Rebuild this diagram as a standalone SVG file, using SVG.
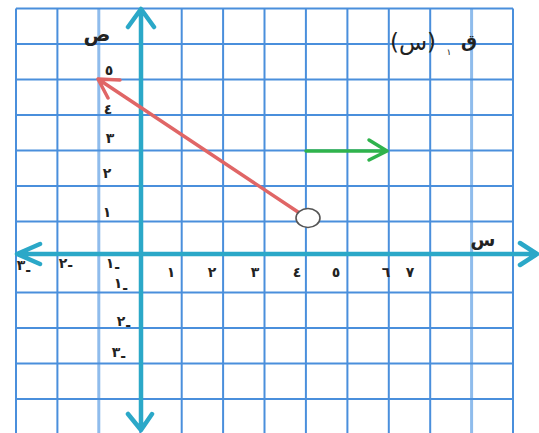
<svg xmlns="http://www.w3.org/2000/svg" width="539" height="433" viewBox="0 0 539 433">
<style>
.g{stroke:#4a8fdc;stroke-width:2;fill:none}
.gl{stroke:#8fbcec;stroke-width:3;fill:none}
.ax{stroke:#2ba8c8;stroke-width:4.5;fill:none;stroke-linecap:round;stroke-linejoin:round}
.t{font-family:"DejaVu Sans",sans-serif;font-size:14px;font-weight:bold;fill:#222;text-anchor:middle}
.red{stroke:#e06666;stroke-width:3.5;fill:none;stroke-linecap:round;stroke-linejoin:round}
.grn{stroke:#2fb34c;stroke-width:3.5;fill:none;stroke-linecap:round;stroke-linejoin:round}
</style>
<rect width="539" height="433" fill="#fff"/>
<g id="grid">
<path class="g" d="M16 8.5V433M57.4 8.5V433M140.3 8.5V433M181.7 8.5V433M223.1 8.5V433M264.5 8.5V433M305.9 8.5V433M347.4 8.5V433M388.8 8.5V433M430.2 8.5V433M513 8.5V433"/>
<path class="gl" d="M98.8 8.5V433M471.6 8.5V433"/>
<path class="g" d="M16 8.5H513M16 44H513M16 79.5H513M16 115H513M16 150.5H513M16 186H513M16 221.5H513M16 292.5H513M16 328H513M16 363.5H513M16 399H513"/>
</g>
<g id="axes">
<path class="ax" d="M141 10V430M128 27L141 9L154 27M128 414L141 430L152 414"/>
<path class="ax" d="M17 254H537M40 244L17 254L40 264M520 243L537 254L520 265"/>
</g>
<g id="labels">
<text class="t" x="97" y="41" style="font-size:20px">ص</text>
<text class="t" x="483" y="246" style="font-size:18px">س</text>
<text class="t" x="109" y="75">٥</text>
<text class="t" x="108" y="114">٤</text>
<text class="t" x="110" y="143">٣</text>
<text class="t" x="107" y="178">٢</text>
<text class="t" x="107" y="217">١</text>
<text class="t" x="171" y="277">١</text>
<text class="t" x="212" y="277">٢</text>
<text class="t" x="255" y="277">٣</text>
<text class="t" x="297" y="277">٤</text>
<text class="t" x="336" y="277">٥</text>
<text class="t" x="386" y="277">٦</text>
<text class="t" x="410" y="277">٧</text>
<text class="t" x="24" y="270">٣<tspan dy="5">-</tspan></text>
<text class="t" x="66" y="268">٢<tspan dy="2">-</tspan></text>
<text class="t" x="113" y="268">١<tspan dy="4">-</tspan></text>
<text class="t" x="121" y="288">١<tspan dy="5">-</tspan></text>
<text class="t" x="124" y="326">٢<tspan dy="4">-</tspan></text>
<text class="t" x="119" y="357">٣<tspan dy="4">-</tspan></text>
<text x="413" y="50" font-family="DejaVu Sans,sans-serif" font-size="23" letter-spacing="5" fill="#222" text-anchor="middle">(س)</text>
<text x="449" y="55" font-family="DejaVu Sans,sans-serif" font-size="9" fill="#222" text-anchor="middle">١</text>
<text x="469" y="47" font-family="DejaVu Sans,sans-serif" font-size="18" font-weight="bold" fill="#222" text-anchor="middle">ق</text>
</g>
<g id="connectors">
<path class="red" d="M298 212L98 79M120 80L98 79L108 98"/>
<path class="grn" d="M306 151H387M369 140L387 151L369 160"/>
</g>
<g id="point">
<ellipse cx="308" cy="218" rx="12" ry="9.5" fill="#fff" stroke="#555" stroke-width="1.6"/>
</g>
</svg>
